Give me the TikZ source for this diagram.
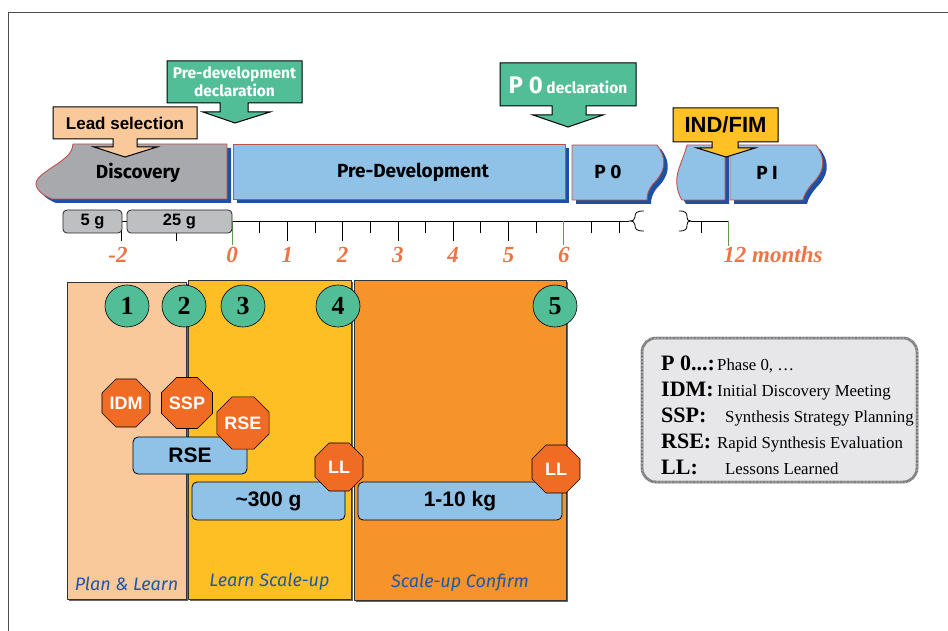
\documentclass[tikz,border=0pt]{standalone}
\usepackage{fontspec}
\setmainfont{Liberation Serif}
\setsansfont{Liberation Sans}
\newfontfamily\comicfont{Fira Sans}
\usepackage{tikz}
\usetikzlibrary{shapes.geometric, positioning}
\definecolor{colorLead}{HTML}{F9C89B}
\definecolor{colorDeclare}{HTML}{52BE98}
\definecolor{colorDiscovery}{HTML}{A7A9AC}
\definecolor{colorGrams}{HTML}{BDBFC1}
\definecolor{colorPhase}{HTML}{90C1E7}
\definecolor{colorShadow}{HTML}{1C50A0}
\definecolor{colorEdge}{HTML}{C0504D}
\definecolor{colorFim}{HTML}{FFC124}
\definecolor{colorLearn}{HTML}{FDBF24}
\definecolor{colorConfirm}{HTML}{F7932B}
\definecolor{colorStop}{HTML}{F06C24}
\definecolor{colorMonth}{HTML}{EE7445}
\definecolor{colorPanelText}{HTML}{1F56A8}
\definecolor{colorLegend}{HTML}{E7E7E9}
\definecolor{colorTick}{HTML}{5A9E4B}
\tikzset{
  blueshadow/.style={preaction={fill=colorShadow, transform canvas={xshift=4pt, yshift=-4pt}}},
  panelshadow/.style={preaction={fill=black!60, transform canvas={xshift=1.5pt, yshift=-2pt}}},
  phase/.style={draw=colorEdge, line width=0.9pt},
  phasetext/.style={font=\comicfont\bfseries\fontsize{19}{19}\selectfont},
  callout/.style={draw=black, line width=1pt, line join=miter},
  declaretext/.style={font=\comicfont\bfseries\fontsize{15.5}{17.5}\selectfont, text=white, align=center},
  boxtext/.style={font=\sffamily\bfseries\fontsize{17}{17}\selectfont},
  month/.style={font=\bfseries\itshape\fontsize{23}{23}\selectfont, text=colorMonth},
  axis/.style={line width=0.8pt},
  grams/.style={draw=black!85, line width=0.8pt, rounded corners=4pt, fill=colorGrams, inner sep=0pt, minimum height=23pt, font=\sffamily\bfseries\fontsize{16.5}{16.5}\selectfont},
  panel/.style={draw=black!80, line width=0.9pt, panelshadow},
  paneltext/.style={inner sep=0pt, font=\comicfont\itshape\fontsize{18}{18}\selectfont, text=colorPanelText},
  stage/.style={ellipse, draw=black, line width=0.6pt, fill=colorDeclare, minimum width=44pt, minimum height=42pt, inner sep=0pt, font=\bfseries\fontsize{26}{26}\selectfont},
  stopsign/.style={regular polygon, regular polygon sides=8, draw=black, line width=0.6pt, fill=colorStop, minimum size=52pt, inner sep=0pt, text=white, font=\sffamily\bfseries\fontsize{18}{18}\selectfont},
  amount/.style={draw=black, line width=0.8pt, rounded corners=5pt, fill=colorPhase, inner sep=0pt, font=\sffamily\bfseries\fontsize{21}{21}\selectfont},
  legendframe/.style={fill=colorLegend, draw=black!30, line width=3pt, rounded corners=14pt, postaction={draw=black!60, line width=2.4pt, dash pattern=on 0.6pt off 0.8pt}},
  legendtext/.style={align=left, inner sep=0pt, font=\fontsize{16.8}{26}\selectfont}
}

\begin{document}
\begin{tikzpicture}[x=1pt, y=-1pt, line join=round]
\useasboundingbox (0,0) rectangle (948,631);
\draw[black!70, line width=1pt] (8,631) -- (8,13) -- (948,13);

\draw[phase, blueshadow, fill=colorDiscovery] (73,144) -- (227,144) -- (227,199) -- (52,199) .. controls (42,195) and (33,188) .. (37,180) .. controls (41,173) and (56,166) .. (65,158) .. controls (71,153) and (72,150) .. (73,144) -- cycle;
\node[phasetext] (discovery) at (138,173) {Discovery};
\draw[phase, blueshadow, fill=colorPhase] (233,144) rectangle (565,199);
\node[phasetext] (predev) at (413,172) {Pre-Development};
\draw[phase, blueshadow, fill=colorPhase] (572,145) -- (657,145) .. controls (668,160) and (665,172) .. (653,184) .. controls (648,190) and (647,195) .. (647,200) -- (572,200) -- cycle;
\node[phasetext] (pzero) at (608,172) {P 0};
\draw[phase, blueshadow, fill=colorPhase] (687,145) -- (725,145) -- (725,200) -- (682,200) .. controls (678,194) and (676,185) .. (677,177) .. controls (678,168) and (684,157) .. (687,145) -- cycle;
\draw[phase, blueshadow, fill=colorPhase] (730,145) -- (816,145) .. controls (827,160) and (824,172) .. (812,184) .. controls (807,190) and (804,195) .. (803,200) -- (730,200) -- cycle;
\node[phasetext] (pone) at (767,173) {P I};

\draw[callout, fill=colorDeclare] (167,61) -- (302,61) -- (302,103) -- (248,103) -- (248,112) -- (270,112) -- (235,123) -- (203,112) -- (220,112) -- (220,103) -- (167,103) -- cycle;
\node[declaretext] (predevdecl) at (234.5,82) {Pre-development\\declaration};
\draw[callout, fill=colorLead] (53,107) -- (197,107) -- (197,139) -- (137,139) -- (137,147) -- (157,147) -- (125,157) -- (94,147) -- (113,147) -- (113,139) -- (53,139) -- cycle;
\node[boxtext] (lead) at (125,123) {Lead selection};
\draw[callout, fill=colorDeclare] (500,63) -- (636,63) -- (636,106) -- (586,106) -- (586,115) -- (603,115) -- (568,127) -- (533,115) -- (552,115) -- (552,106) -- (500,106) -- cycle;
\node[declaretext] (pzerodecl) at (568,85) {{\fontsize{24}{24}\selectfont P 0} declaration};
\draw[callout, fill=colorFim] (673,108) -- (778,108) -- (778,142) -- (738,142) -- (738,148) -- (755,148) -- (726,157) -- (697,148) -- (712,148) -- (712,142) -- (673,142) -- cycle;
\node[boxtext, font=\sffamily\bfseries\fontsize{22}{22}\selectfont] (indfim) at (725.5,125) {IND/FIM};

\draw[axis] (63,221) -- (629,221);
\foreach \m in {-2,...,6} \draw[axis] ({232+55.3*\m},221) -- ++(0,20);
\foreach \m in {-2.5,-1.5,-0.5,0.5,1.5,2.5,3.5,4.5,5.5,6.5,7} \draw[axis] ({232+55.3*\m},221) -- ++(0,12);
\draw[axis, colorTick] (232,221) -- ++(0,24);
\draw[axis, colorTick] ({232+55.3*6},221) -- ++(0,24);
\draw[axis] (644,211) .. controls (636,211) and (635,213) .. (635,217) .. controls (635,220) and (633,221) .. (629,221) .. controls (633,221) and (635,222) .. (635,225) .. controls (635,229) and (636,231) .. (644,231);
\draw[axis] (679,211) .. controls (686,211) and (687,213) .. (687,217) .. controls (687,220) and (688,221) .. (691,221) .. controls (688,221) and (687,222) .. (687,225) .. controls (687,229) and (686,231) .. (679,231);
\draw[axis] (691,221) -- (728,221);
\draw[axis] (701,221) -- ++(0,12);
\draw[axis, colorTick] (728,221) -- ++(0,25);
\node[grams, minimum width=59pt] (fivegrams) at (92.5,221.5) {5 g};
\node[grams, minimum width=105pt] (twentyfivegrams) at (179.5,221.5) {25 g};
\foreach \m in {0,...,6} \node[month] (month\m) at ({232+55.3*\m},255) {\m};
\node[month] (monthminus) at (118,255) {-2};
\node[month] (monthend) at (773,255) {12 months};

\node[panel, fill=colorLead, minimum width=119pt, minimum height=317pt] (plan) at (126.5,440.5) {};
\node[panel, fill=colorLearn, minimum width=163pt, minimum height=319pt] (learn) at (269.5,439.5) {};
\node[panel, fill=colorConfirm, minimum width=212pt, minimum height=320pt] (confirm) at (460,440) {};
\node[paneltext, above=9pt of plan.south] (planlabel) {Plan \& Learn};
\node[paneltext, above=9pt of learn.south] (learnlabel) {Learn Scale-up};
\node[paneltext, above=9pt of confirm.south] (confirmlabel) {Scale-up Confirm};

\node[amount, minimum width=114pt, minimum height=37pt] (rsebox) at (190,455.5) {RSE};
\node[stopsign] (idm) at (126,403) {IDM};
\node[stopsign] (ssp) at (187,403) {SSP};
\node[stopsign] (rse) at (243,423) {RSE};
\node[amount, minimum width=153pt, minimum height=38pt] (smallscale) at (268.5,501) {\textasciitilde300 g};
\node[stopsign] (learnll) at (339,467) {LL};
\node[amount, minimum width=204pt, minimum height=38pt] (largescale) at (460,501) {1-10 kg};
\node[stopsign] (confirmll) at (556,469) {LL};

\node[stage] (stage1) at (127,306) {1};
\node[stage] (stage2) at (184,306) {2};
\node[stage] (stage3) at (243,306) {3};
\node[stage] (stage4) at (338,306) {4};
\node[stage] (stage5) at (555,306) {5};

\draw[legendframe] (642,338) rectangle (917,482);
\node[legendtext, anchor=west] (legend) at (661,415) {\makebox[56pt][l]{\fontsize{22}{26}\selectfont\bfseries P 0...:}Phase 0, \ldots\\
\makebox[56pt][l]{\fontsize{22}{26}\selectfont\bfseries IDM:}Initial Discovery Meeting\\
\makebox[64pt][l]{\fontsize{22}{26}\selectfont\bfseries SSP:}Synthesis Strategy Planning\\
\makebox[56pt][l]{\fontsize{22}{26}\selectfont\bfseries RSE:}Rapid Synthesis Evaluation\\
\makebox[64pt][l]{\fontsize{22}{26}\selectfont\bfseries LL:}Lessons Learned};
\end{tikzpicture}
\end{document}
